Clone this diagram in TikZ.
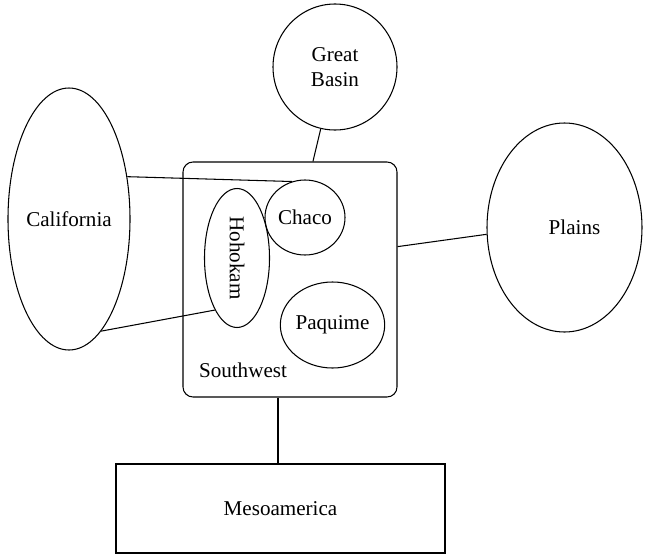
\documentclass[tikz,border=0pt]{standalone}
\usepackage{fontspec}
\setmainfont{Liberation Serif}
\usetikzlibrary{shapes.geometric}

\begin{document}
\begin{tikzpicture}[
        region/.style={ellipse, draw, inner sep=0pt, font=\fontsize{12}{14.5}\selectfont},
        link/.style={draw, semithick}
    ]
        \useasboundingbox (0,0) rectangle (13.02,11.1);

        % Der Suedwesten als Kasten mit abgerundeten Ecken
        \node[draw, semithick, rounded corners=0.2cm, minimum width=4.28cm, minimum height=4.70cm] (sw) at (5.80,5.51) {};
        \node[font=\fontsize{12}{14.5}\selectfont] (swlabel) at (4.86,3.70) {Southwest};

        % Kulturen innerhalb des Suedwestens
        \node[region, semithick, rotate=-90, minimum width=2.78cm, minimum height=1.30cm] (hohokam) at (4.74,5.94) {Hohokam};
        \node[region, semithick, minimum width=1.60cm, minimum height=1.50cm] (chaco) at (6.10,6.75) {Chaco};
        \node[region, semithick, minimum width=1.82cm, minimum height=1.72cm] (paquime) at (6.65,4.60) {Paquime};

        % Nachbarregionen rundherum
        \node[region, semithick, align=center, minimum width=2.48cm, minimum height=2.52cm] (basin) at (6.70,9.76) {Great\\Basin};
        \node[region, semithick, minimum width=2.44cm, minimum height=5.24cm] (california) at (1.38,6.72) {California};
        \node[region, semithick, minimum width=3.10cm, minimum height=4.18cm] (plains) at (11.29,6.55) {\hspace{0.4cm}Plains};
        \node[draw, semithick, font=\fontsize{12}{14.5}\selectfont, minimum width=6.58cm, minimum height=1.78cm] (meso) at (5.61,0.93) {Mesoamerica\hspace{0.4cm}};

        % Verbindungen zwischen den Regionen
        \draw[link] (basin.257) -- (sw.79);
        \draw[link] (california.36) -- (chaco.110);
        \draw[link] (california.-74) -- (hohokam.337);
        \draw[link] (plains.185) -- (sw.17);
        \draw[line width=1.2pt] (sw.264) -- (sw.264 |- meso.north);

    \end{tikzpicture}
\end{document}
